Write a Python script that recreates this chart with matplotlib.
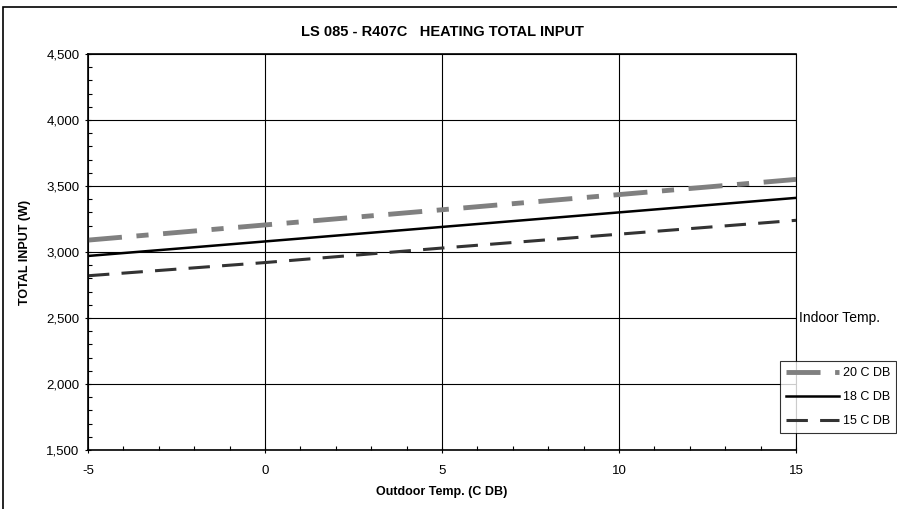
import matplotlib
matplotlib.use("Agg")
import matplotlib.pyplot as plt
from matplotlib.ticker import MultipleLocator, FuncFormatter
from matplotlib.patches import Rectangle

plt.rcParams['font.family'] = ['Liberation Sans', 'DejaVu Sans']
plt.rcParams['axes.unicode_minus'] = False

outdoor = [-5, 0, 5, 10, 15]
input_20 = [3090, 3205, 3320, 3435, 3550]
input_18 = [2970, 3080, 3190, 3300, 3410]
input_15 = [2820, 2920, 3030, 3135, 3240]
series_labels = ['20 C DB', '18 C DB', '15 C DB']

fig = plt.figure(figsize=(8.97, 5.09), dpi=100)
ax = fig.add_axes([88/897, 1 - 450/509, (796-88)/897, (450-54)/509])

l20, = ax.plot(outdoor, input_20, color='#808080', lw=3.5, dashes=(7, 3, 2.5, 3), solid_capstyle='butt', dash_capstyle='butt')
l18, = ax.plot(outdoor, input_18, color='black', lw=1.8)
l15, = ax.plot(outdoor, input_15, color='#333333', lw=2.2, dashes=(7, 4), dash_capstyle='butt')

ax.set_xlim(-5, 15)
ax.set_ylim(1500, 4500)
ax.xaxis.set_major_locator(MultipleLocator(5))
ax.xaxis.set_minor_locator(MultipleLocator(1))
ax.yaxis.set_major_locator(MultipleLocator(500))
ax.yaxis.set_minor_locator(MultipleLocator(100))
ax.xaxis.set_major_formatter(FuncFormatter(lambda v, p: f'{int(v)}'))
ax.yaxis.set_major_formatter(FuncFormatter(lambda v, p: f'{int(v):,}'))
ax.grid(True, which='major', color='black', lw=0.8)
ax.tick_params(which='major', direction='inout', length=5, labelsize=9.5, width=0.8)
ax.tick_params(which='minor', direction='in', length=3, width=0.8)
ax.tick_params(axis='x', pad=8)
for s in ax.spines.values():
    s.set_linewidth(0.8)
ax.spines['left'].set_linewidth(1.2)
ax.spines['bottom'].set_linewidth(1.2)
ax.spines['top'].set_linewidth(1.2)

ax.set_title('LS 085 - R407C   HEATING TOTAL INPUT', fontsize=10.5, fontweight='bold', pad=13)
ax.set_xlabel('Outdoor Temp. (C DB)', fontsize=9, fontweight='bold', labelpad=7)
ax.set_ylabel('TOTAL INPUT (W)', fontsize=9, fontweight='bold', labelpad=11)

fig.text(799/897, 1 - 318/509, 'Indoor Temp.', fontsize=10, va='center', ha='left')

leg = fig.legend([l20, l18, l15], series_labels, loc='upper left',
                 bbox_to_anchor=(780/897, 1 - 361/509), fontsize=9,
                 frameon=True, fancybox=False, edgecolor='black',
                 handlelength=4.2, handletextpad=0.3, borderpad=0.5,
                 labelspacing=0.95, borderaxespad=0)
leg.get_frame().set_linewidth(0.8)

fig.patches.append(Rectangle((3/897, -0.1), 1.0, 1.1 - 7/509, transform=fig.transFigure,
                             fill=False, edgecolor='black', lw=1.2))

fig.savefig('out.png', dpi=100)
